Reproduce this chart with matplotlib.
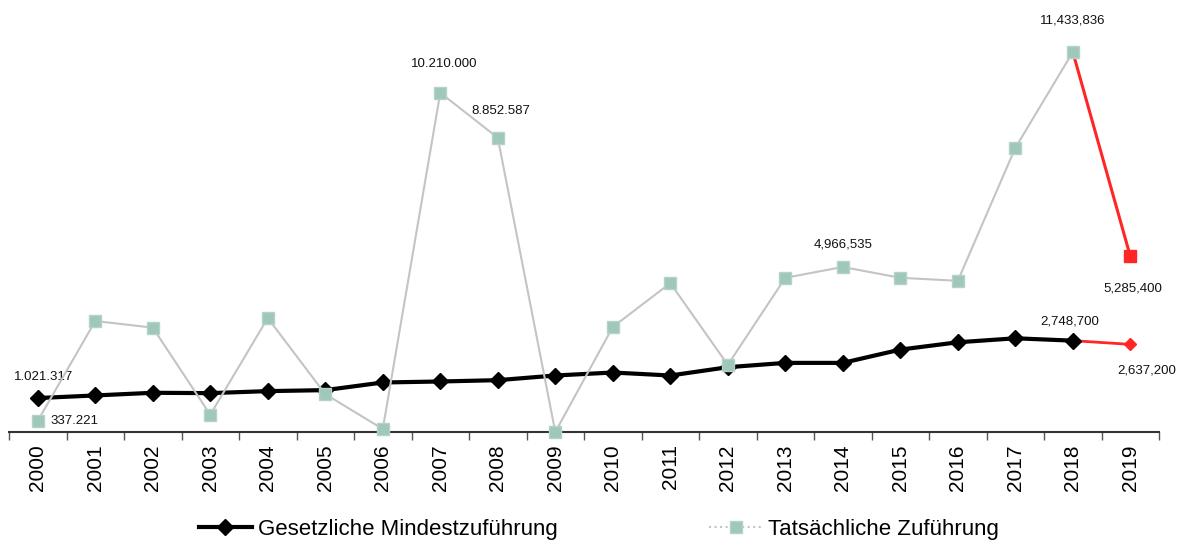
import matplotlib.pyplot as plt
import numpy as np
from matplotlib.lines import Line2D

plt.rcParams['font.family'] = ['Liberation Sans', 'DejaVu Sans']

# data
years = [str(y) for y in range(2000, 2020)]
mindest = [1021317, 1100000, 1180000, 1170000, 1230000, 1260000, 1490000, 1520000,
           1560000, 1700000, 1790000, 1700000, 1950000, 2080000, 2080000, 2480000,
           2700000, 2820000, 2748700, 2637200]
tatsaechlich = [337221, 3340000, 3140000, 520000, 3430000, 1140000, 90000, 10210000,
                8852587, 0, 3160000, 4480000, 2020000, 4640000, 4966535, 4640000,
                4550000, 8550000, 11433836, 5285400]

# value labels: (series, index, text, offset in points, alignment)
labels = [
    ('m', 0, '1.021.317', (4, 15), 'center'),
    ('t', 0, '337.221', (9, 0), 'left'),
    ('t', 7, '10.210.000', (3, 21), 'center'),
    ('t', 8, '8.852.587', (2, 19), 'center'),
    ('t', 14, '4,966,535', (0, 16), 'center'),
    ('t', 18, '11,433,836', (0, 23), 'center'),
    ('t', 19, '5,285,400', (2, -23), 'center'),
    ('m', 18, '2,748,700', (-2, 14), 'center'),
    ('m', 19, '2,637,200', (12, -19), 'center'),
]

red = '#ff2626'
grey_line = '#c4c4c4'
teal = '#9fc7ba'

x = np.arange(len(years))
fig = plt.figure(figsize=(11.86, 5.46), dpi=100)
ax = fig.add_axes([0.0076, 0.2088, 0.9697, 0.7729])

# gesetzliche Mindestzufuehrung
ax.plot(x[:-1], mindest[:-1], color='black', lw=3, marker='D', ms=8, zorder=3)
ax.plot(x[-2:], mindest[-2:], color=red, lw=2, zorder=2)
ax.plot(x[-1:], mindest[-1:], 'D', color=red, ms=6, zorder=3)

# tatsaechliche Zufuehrung
ax.plot(x[:-1], tatsaechlich[:-1], color=grey_line, lw=1.5, marker='s', ms=8,
        mfc=teal, mec='#b5d3c9', zorder=4, clip_on=False)
ax.plot(x[-2:], tatsaechlich[-2:], color=red, lw=2.2, zorder=3)
ax.plot(x[-1:], tatsaechlich[-1:], 's', color=red, ms=8, zorder=4)

for series, i, txt, off, ha in labels:
    vals = mindest if series == 'm' else tatsaechlich
    ax.annotate(txt, (x[i], vals[i]), xytext=off, textcoords='offset points',
                ha=ha, va='center', fontsize=9.5, color='#111111')

ax.set_xlim(-0.5, len(years) - 0.5)
ax.set_ylim(0, 12.7e6)
ax.set_yticks([])
for s in ['top', 'left', 'right']:
    ax.spines[s].set_visible(False)
ax.spines['bottom'].set_color('#333333')
ax.spines['bottom'].set_linewidth(1.5)

ax.set_xticks(x)
ax.set_xticklabels(years, rotation=90, fontsize=15)
ax.tick_params(axis='x', which='major', length=0, pad=9)
ax.set_xticks(np.arange(-0.5, len(years), 1), minor=True)
ax.tick_params(axis='x', which='minor', length=6, color='#555555', width=1)

handles = [
    Line2D([], [], color='black', lw=3, marker='D', ms=8),
    Line2D([], [], color=grey_line, lw=1.5, ls=':', marker='s', ms=9, mfc=teal, mec='#b5d3c9'),
]
fig.legend(handles, ['Gesetzliche Mindestzuführung', 'Tatsächliche Zuführung'],
           loc='center', bbox_to_anchor=(0.505, 0.03), ncol=2, frameon=False,
           fontsize=16, columnspacing=6.8, handlelength=2.4, handletextpad=0.27)

fig.savefig('out.png', dpi=100)
